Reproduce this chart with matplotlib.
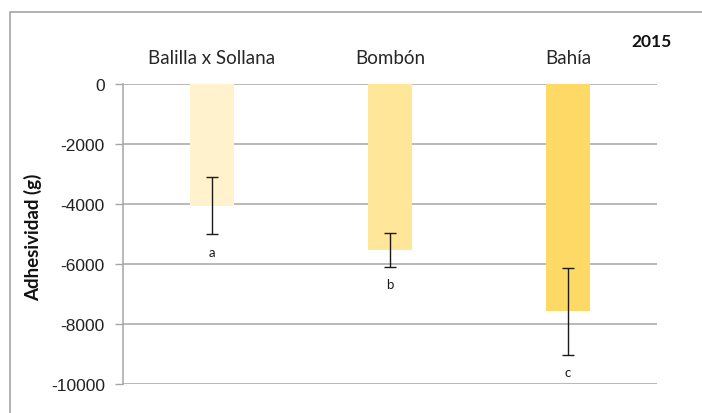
import matplotlib
matplotlib.use("Agg")
import matplotlib.pyplot as plt
from matplotlib.patches import Rectangle

# Data
varieties = ["Balilla x Sollana", "Bombón", "Bahía"]
adhesiveness = [-4050, -5520, -7570]
errors = [965, 570, 1450]
groups = ["a", "b", "c"]
bar_colors = ["#FFF2CC", "#FFE699", "#FFD966"]
yticks = [0, -2000, -4000, -6000, -8000, -10000]
year = "2015"

W, H = 702, 414
fig = plt.figure(figsize=(W / 100, H / 100), dpi=100)

# outer chart frame
fig.patches.append(Rectangle((9.5 / W, -0.1), 2.0, (H - 12.5) / H + 0.1,
                             transform=fig.transFigure, fill=False,
                             edgecolor="#A6A6A6", linewidth=1.2))

left, right = 123 / W, 657 / W
bottom, top = (H - 385) / H, (H - 85) / H
ax = fig.add_axes([left, bottom, right - left, top - bottom])

x = list(range(len(varieties)))
ax.bar(x, adhesiveness, width=0.25, color=bar_colors, zorder=2)
ax.errorbar(x, adhesiveness, yerr=errors, fmt="none", ecolor="#1a1a1a",
            elinewidth=1.0, capsize=4, capthick=1.0, zorder=3)

for xi, v, e, g in zip(x, adhesiveness, errors, groups):
    ax.annotate(g, (xi, v - e), xytext=(0, -8), textcoords="offset points",
                ha="center", va="top", fontsize=9.5, family="Lato",
                color="#1a1a1a")

ax.set_xlim(-0.5, len(varieties) - 0.5)
ax.set_ylim(-10000, 0)
ax.set_yticks(yticks)
ax.set_yticklabels([str(t) for t in yticks], family="Liberation Sans",
                   fontsize=12.5, color="#222222")
ax.tick_params(axis="y", length=6, width=1, color="#A6A6A6", pad=7)
ax.set_xticks([])
ax.grid(axis="y", color="#A6A6A6", linewidth=1.1, zorder=0)
ax.set_axisbelow(True)
for s in ["top", "right", "bottom"]:
    ax.spines[s].set_visible(False)
ax.spines["left"].set_color("#A6A6A6")
ax.spines["left"].set_linewidth(1.1)

# category names above the bars
for xi, name in zip(x, varieties):
    ax.text(xi, 1.09, name, transform=ax.get_xaxis_transform(),
            ha="center", va="center", fontsize=13.5, family="Lato",
            color="#262626")

ax.set_ylabel("Adhesividad (g)", family="Lato", fontweight="bold",
              fontsize=13.5, color="#111111", va="center")
ax.yaxis.set_label_coords(33 / W, (H - 237) / H, transform=fig.transFigure)

fig.text(652 / W, (H - 42) / H, year, ha="center", va="center",
         fontsize=12.5, fontweight="bold", family="Lato", color="#111111")

fig.savefig("out.png", dpi=100)
